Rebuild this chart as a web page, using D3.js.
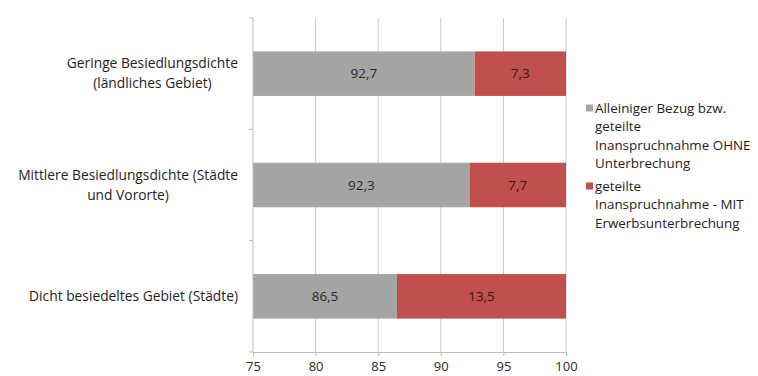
<!DOCTYPE html>
<html>
<head>
<meta charset="utf-8">
<script src="https://cdn.jsdelivr.net/npm/d3@7"></script>
<style>
  html, body { margin: 0; padding: 0; background: #fff; }
  svg { display: block; }
  text { font-family: "Open Sans", "Liberation Sans", sans-serif; }
</style>
</head>
<body>
<svg id="chart" width="758" height="376"></svg>
<script>
// Categories (top to bottom) and the two stacked shares in percent
const categories = [
  "Geringe Besiedlungsdichte (ländliches Gebiet)",
  "Mittlere Besiedlungsdichte (Städte und Vororte)",
  "Dicht besiedeltes Gebiet (Städte)"
];
const categoryLines = [
  ["Geringe Besiedlungsdichte", "(ländliches Gebiet)"],
  ["Mittlere Besiedlungsdichte (Städte", "und Vororte)"],
  ["Dicht besiedeltes Gebiet (Städte)"]
];
const ohneValues = [92.7, 92.3, 86.5];
const mitValues = [7.3, 7.7, 13.5];
const seriesNames = [
  ["Alleiniger Bezug bzw.", "geteilte", "Inanspruchnahme OHNE", "Unterbrechung"],
  ["geteilte", "Inanspruchnahme - MIT", "Erwerbsunterbrechung"]
];
const xTicks = [75, 80, 85, 90, 95, 100];

const colors = ["#a5a5a5", "#c0504d"];
const svg = d3.select("#chart");

const plot = { left: 253, right: 566, top: 18, bottom: 352 };

const x = d3.scaleLinear().domain([75, 100]).range([plot.left, plot.right]);
const y = d3.scaleBand().domain(categories).range([plot.top, plot.bottom])
  .paddingInner(0.6).paddingOuter(0.3);

const fmt = v => d3.format(".1f")(v).replace(".", ",");

// vertical gridlines
svg.append("g").selectAll("line").data(xTicks.slice(1)).join("line")
  .attr("x1", d => x(d)).attr("x2", d => x(d))
  .attr("y1", plot.top).attr("y2", plot.bottom)
  .attr("stroke", "#c8c8c8").attr("stroke-width", 1);

// stacked bars
const rows = categories.map((c, i) => ({
  cat: c,
  segs: [
    { start: 75, end: ohneValues[i], value: ohneValues[i], k: 0 },
    { start: ohneValues[i], end: ohneValues[i] + mitValues[i], value: mitValues[i], k: 1 }
  ]
}));

const rowG = svg.append("g").selectAll("g").data(rows).join("g");
rowG.selectAll("rect").data(d => d.segs.map(s => ({ ...s, cat: d.cat }))).join("rect")
  .attr("x", d => x(d.start))
  .attr("width", d => x(d.end) - x(d.start))
  .attr("y", d => y(d.cat))
  .attr("height", y.bandwidth())
  .attr("fill", d => colors[d.k]);

rowG.selectAll("text").data(d => d.segs.map(s => ({ ...s, cat: d.cat }))).join("text")
  .attr("x", d => (x(d.start) + x(d.end)) / 2)
  .attr("y", d => y(d.cat) + y.bandwidth() / 2)
  .attr("dy", "0.35em")
  .attr("text-anchor", "middle")
  .attr("font-size", 13.5)
  .attr("fill", d => d.k === 0 ? "#2a2a2a" : "#3a1515")
  .text(d => fmt(d.value));

// bottom axis
const xAxis = svg.append("g")
  .attr("transform", `translate(0,${plot.bottom})`)
  .call(d3.axisBottom(x).tickValues(xTicks).tickSize(4).tickSizeOuter(0).tickFormat(d3.format("d")));
xAxis.select(".domain").attr("stroke", "#bbb");
xAxis.selectAll(".tick line").attr("stroke", "#bbb");
xAxis.selectAll(".tick text").attr("font-size", 13).attr("fill", "#2a2a2a")
  .attr("font-family", "'Open Sans', sans-serif").attr("dy", "0.9em");

// left axis line with ticks at band boundaries
const bounds = [plot.top, ...categories.slice(1).map(c => y(c) - y.step() * y.paddingInner() / 2), plot.bottom];
svg.append("line")
  .attr("x1", plot.left).attr("x2", plot.left)
  .attr("y1", plot.top).attr("y2", plot.bottom)
  .attr("stroke", "#bbb");
svg.append("g").selectAll("line").data(bounds).join("line")
  .attr("x1", plot.left - 4).attr("x2", plot.left)
  .attr("y1", d => d).attr("y2", d => d)
  .attr("stroke", "#bbb");

// category labels: right-aligned block, each line centered within it
const labelRight = 238;
const lineH = 20;
categoryLines.forEach((lines, i) => {
  const g = svg.append("g");
  const cy = y(categories[i]) + y.bandwidth() / 2;
  const texts = lines.map((ln, j) => g.append("text")
    .attr("font-size", 13.8).attr("fill", "#1e1e1e")
    .attr("text-anchor", "middle")
    .attr("y", cy + (j - (lines.length - 1) / 2) * lineH)
    .attr("dy", "0.35em")
    .text(ln));
  const w = d3.max(texts, t => t.node().getComputedTextLength());
  texts.forEach(t => t.attr("x", labelRight - w / 2));
});

// legend
const legendX = 586, legendTextX = 595, legendLineH = 18.5;
const legendStarts = [108, 186];
seriesNames.forEach((lines, k) => {
  const y0 = legendStarts[k];
  svg.append("rect")
    .attr("x", legendX).attr("y", y0 - 3.5).attr("width", 7).attr("height", 7)
    .attr("fill", colors[k]);
  lines.forEach((ln, j) => {
    svg.append("text")
      .attr("x", legendTextX).attr("y", y0 + j * legendLineH)
      .attr("dy", "0.35em")
      .attr("font-size", 13.4).attr("fill", "#1e1e1e")
      .text(ln);
  });
});
</script>
</body>
</html>
